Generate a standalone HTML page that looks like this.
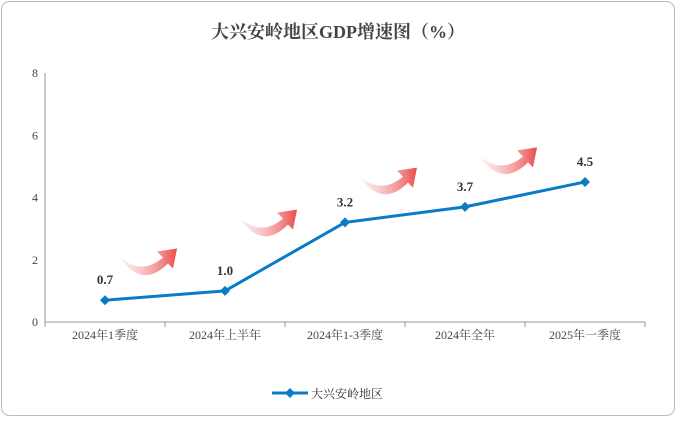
<!DOCTYPE html>
<html><head><meta charset="utf-8"><style>
body{margin:0;background:#fff}
svg text{font-family:"Liberation Serif","Noto Serif CJK SC",serif}
</style></head><body>
<svg width="676" height="417" viewBox="0 0 676 417">
<defs><linearGradient id="ag" x1="0" x2="1" y1="0" y2="0"><stop offset="0" stop-color="#f7c9c9" stop-opacity="0.3"/><stop offset="1" stop-color="#ec4a4a"/></linearGradient></defs>
<rect x="1.5" y="1.5" width="673" height="414" rx="8" fill="#fff" stroke="#bbb"/>
<text x="338" y="38" text-anchor="middle" font-size="18" font-weight="bold" fill="#444">大兴安岭地区GDP增速图（%）</text>
<g id="axes"></g><g id="arrows"></g><g id="series"></g>
<g>
<line x1="272" y1="393" x2="308" y2="393" stroke="#0a7cc6" stroke-width="3"/>
<path d="M290 388 L295 393 L290 398 L285 393Z" fill="#0a7cc6"/>
<text x="311" y="398" font-size="12" fill="#333">大兴安岭地区</text>
</g>
</svg>
<script>
const categories=["2024年1季度","2024年上半年","2024年1-3季度","2024年全年","2025年一季度"];
const values=[0.7,1.0,3.2,3.7,4.5];
const yTicks=[0,2,4,6,8];
const NS="http://www.w3.org/2000/svg";
const x0=45,x1=645,yb=322,yt=73;
const bw=(x1-x0)/categories.length;
const X=i=>x0+bw*(i+0.5);
const Y=v=>yb-(v/8)*(yb-yt);
function mk(t,a,p){const e=document.createElementNS(NS,t);for(const k in a)e.setAttribute(k,a[k]);(p||document.getElementById('axes')).appendChild(e);return e;}
let l=mk('line',{x1:x0,y1:yt,x2:x0,y2:yb,stroke:'#999'});


l=mk('line',{x1:x0,y1:yb,x2:x1,y2:yb,stroke:'#999'});


yTicks.forEach(v=>{const t=mk('text',{x:38,y:Y(v)+4,'text-anchor':'end','font-size':12,fill:'#444'});t.textContent=v;

});
for(let i=0;i<=categories.length;i++){mk('line',{x1:x0+bw*i,y1:yb,x2:x0+bw*i,y2:yb+5,stroke:'#999'});}
categories.forEach((c,i)=>{const t=mk('text',{x:X(i),y:yb+17,'text-anchor':'middle','font-size':12,fill:'#444'});t.textContent=c;

});
const ar=document.getElementById('arrows');
for(let i=0;i<categories.length-1;i++){
 const cx=(X(i)+X(i+1))/2-15, cy=(Y(values[i])+Y(values[i+1]))/2-34;
 const p=mk('path',{d:'M-30 -4 Q-8 14 13 -4 L7 -10 L27 -13 L23 7 L18 2 Q-8 28 -30 -4Z',fill:'url(#ag)',transform:`translate(${cx},${cy})`},ar);
 
 
}
const sg=document.getElementById('series');
const ln=mk('polyline',{points:values.map((v,i)=>X(i)+','+Y(v)).join(' '),fill:'none',stroke:'#0a7cc6','stroke-width':3},sg);


values.forEach((v,i)=>{const x=X(i),y=Y(v);
 const m=mk('path',{d:`M${x} ${y-5} L${x+5} ${y} L${x} ${y+5} L${x-5} ${y}Z`,fill:'#0a7cc6'},sg);
 
 
 const t=mk('text',{x:x,y:y-16,'text-anchor':'middle','font-size':13,'font-weight':'bold',fill:'#333'},sg);t.textContent=v.toFixed(1);
 
 });
</script>
</body></html>
